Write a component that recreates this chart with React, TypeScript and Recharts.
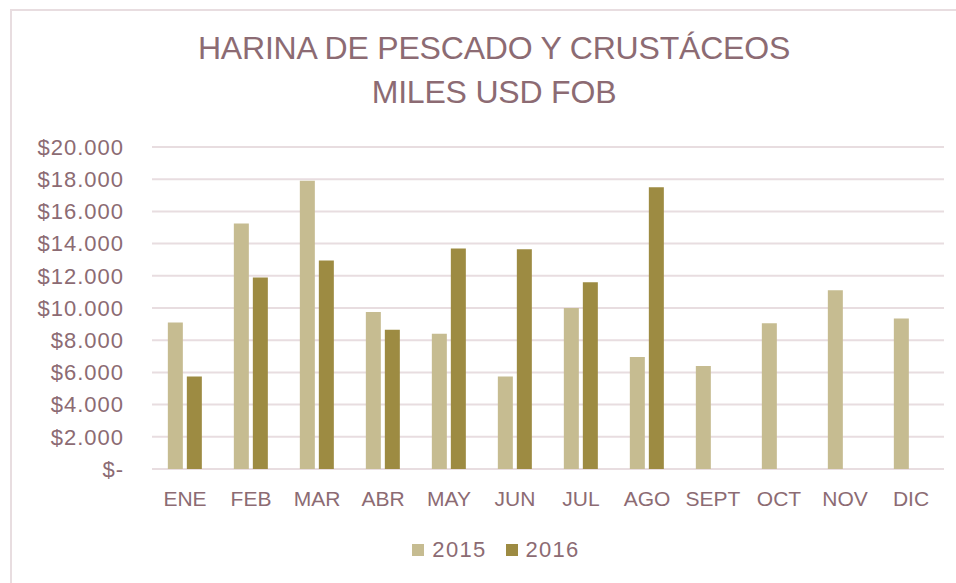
import { Bar, BarChart, CartesianGrid, Legend, XAxis, YAxis } from 'recharts';

const months = ['ENE', 'FEB', 'MAR', 'ABR', 'MAY', 'JUN', 'JUL', 'AGO', 'SEPT', 'OCT', 'NOV', 'DIC'];
const values2015 = [9100, 15250, 17900, 9750, 8400, 5750, 10000, 6950, 6400, 9050, 11100, 9350];
const values2016 = [5750, 11900, 12950, 8650, 13700, 13650, 11600, 17500, null, null, null, null];
const yTicks = [0, 2000, 4000, 6000, 8000, 10000, 12000, 14000, 16000, 18000, 20000];

const textColor = '#8c6b73';
const gridColor = '#e8dde0';
const font = '"Liberation Sans", Arial, sans-serif';

const series = [
    { key: 'y2015', name: '2015', color: '#c6bc91' },
    { key: 'y2016', name: '2016', color: '#9d8b42' },
];

const chartData = months.map((m, i) => ({ month: m, y2015: values2015[i], y2016: values2016[i] }));

// "$20.000" style, zero shown as "$-"
const formatMoney = (v: number) => {
    if (v === 0) return '$-';
    return '$' + String(v).replace(/\B(?=(\d{3})+(?!\d))/g, '.');
};

const LegendContent = () => (
    <div
        style={{
            display: 'flex',
            justifyContent: 'center',
            alignItems: 'center',
            gap: 19,
            fontFamily: font,
            paddingLeft: 48,
        }}
    >
        {series.map((s) => (
            <div key={s.key} style={{ display: 'flex', alignItems: 'center', gap: 8 }}>
                <span style={{ width: 12, height: 12, background: s.color, display: 'inline-block' }} />
                <span style={{ fontSize: 22, color: textColor, letterSpacing: 1.3 }}>{s.name}</span>
            </div>
        ))}
    </div>
);

export default function App() {
    return (
        <div style={{ position: 'absolute', left: 0, top: 0, width: 956, height: 583, overflow: 'hidden', background: '#fff' }}>
            <div
                style={{
                    position: 'absolute',
                    left: 10,
                    top: 9,
                    width: 1000,
                    height: 700,
                    borderLeft: `2px solid ${gridColor}`,
                    borderTop: `2px solid ${gridColor}`,
                }}
            />
            <div
                style={{
                    position: 'absolute',
                    left: 0,
                    top: 26,
                    width: 988,
                    textAlign: 'center',
                    fontFamily: font,
                    fontSize: 32,
                    lineHeight: '44px',
                    color: textColor,
                    letterSpacing: -0.2,
                }}
            >
                HARINA DE PESCADO Y CRUSTÁCEOS
                <br />
                MILES USD FOB
            </div>
            <BarChart
                width={956}
                height={583}
                data={chartData}
                margin={{ top: 147, right: 12, bottom: 28, left: 0 }}
                barCategoryGap="24%"
                barGap={4}
                style={{ position: 'absolute', left: 0, top: 0 }}
            >
                <CartesianGrid vertical={false} stroke={gridColor} strokeWidth={2} />
                <XAxis
                    dataKey="month"
                    axisLine={false}
                    tickLine={false}
                    tickSize={0}
                    tickMargin={22}
                    height={60}
                    interval={0}
                    tick={{ fill: textColor, fontSize: 21, fontFamily: font }}
                />
                <YAxis
                    domain={[0, 20000]}
                    ticks={yTicks}
                    tickFormatter={formatMoney}
                    axisLine={false}
                    tickLine={false}
                    tickSize={0}
                    tickMargin={28}
                    width={152}
                    interval={0}
                    tick={{ fill: textColor, fontSize: 22, fontFamily: font, letterSpacing: 1 }}
                />
                <Legend verticalAlign="bottom" content={<LegendContent />} wrapperStyle={{ bottom: 20 }} />
                {series.map((s) => (
                    <Bar key={s.key} dataKey={s.key} name={s.name} fill={s.color} isAnimationActive={false} />
                ))}
            </BarChart>
        </div>
    );
}
